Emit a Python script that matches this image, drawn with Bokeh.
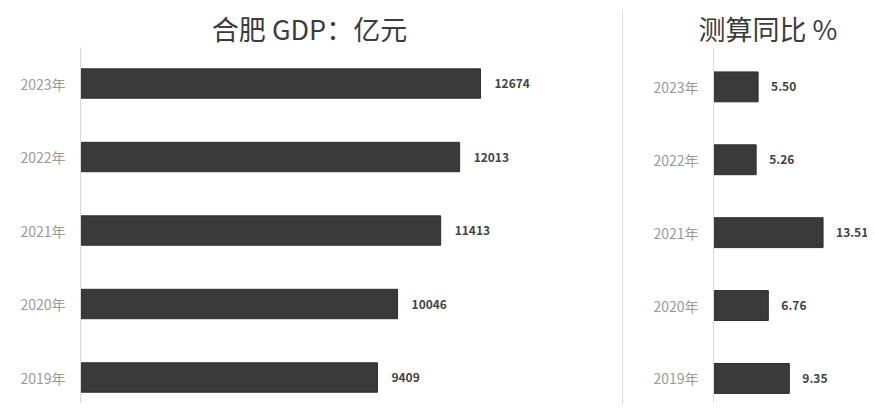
from bokeh.plotting import figure
from bokeh.models import ColumnDataSource, Range1d, FixedTicker, Div
from bokeh.layouts import row
from bokeh.embed import file_html
from bokeh.resources import INLINE
from bokeh.core.properties import value

years = ["2019年", "2020年", "2021年", "2022年", "2023年"]
gdp = [9409, 10046, 11413, 12013, 12674]
gdp_labels = ["9409", "10046", "11413", "12013", "12674"]
growth = [9.35, 6.76, 13.51, 5.26, 5.50]
growth_labels = ["9.35", "6.76", "13.51", "5.26", "5.50"]

FONT = "Noto Sans CJK SC"
BAR = "#3a3a3a"

def style(p, font_px="27px"):
    p.title.text_font = FONT
    p.title.text_font_size = font_px
    p.title.text_font_style = "normal"
    p.title.text_color = "#3c3c3c"
    p.title.standoff = 0
    p.xaxis.visible = False
    p.xgrid.visible = False
    p.ygrid.visible = False
    p.outline_line_color = None
    ax = p.yaxis[0]
    ax.ticker = FixedTicker(ticks=list(range(len(years))))
    ax.major_label_overrides = {i: y for i, y in enumerate(years)}
    ax.major_tick_line_color = None
    ax.minor_tick_line_color = None
    ax.axis_line_color = "#d9d9d9"
    ax.axis_line_width = 1
    ax.major_label_text_font = FONT
    ax.major_label_text_font_size = "14px"
    ax.major_label_text_color = "#9a9a9a"
    ax.major_label_standoff = 9

idx = list(range(len(years)))

src1 = ColumnDataSource(dict(y=idx, v=gdp, lab=gdp_labels))
p1 = figure(width=622, height=405, output_backend="svg", toolbar_location=None,
            x_range=Range1d(0, 14512), y_range=Range1d(-0.34, 4.49),
            min_border_left=80, min_border_right=84, min_border_top=47, min_border_bottom=3,
            title="合肥 GDP：亿元")
p1.title.align = "center"
p1.hbar(y="y", right="v", left=0, height=0.4, source=src1, fill_color=BAR, line_color="#2e2e2e")
p1.text(x="v", y="y", text="lab", source=src1, x_offset=14, text_baseline="middle",
        text_font=value(FONT), text_font_size="12px", text_font_style="bold", text_color="#444444")
style(p1)

sep = Div(width=1, height=395, margin=(10, 0, 0, 0), styles={"background-color": "#dcdcdc"})

src2 = ColumnDataSource(dict(y=idx, v=growth, lab=growth_labels))
p2 = figure(width=244, height=405, output_backend="svg", toolbar_location=None,
            x_range=Range1d(0, 18.99), y_range=Range1d(-0.33, 4.54),
            min_border_left=90, min_border_right=0, min_border_top=47, min_border_bottom=3,
            title="测算同比 %")
p2.title.align = "left"
p2.title.offset = -15
p2.hbar(y="y", right="v", left=0, height=0.41, source=src2, fill_color=BAR, line_color="#2e2e2e")
p2.text(x="v", y="y", text="lab", source=src2, x_offset=13, text_baseline="middle",
        text_font=value(FONT), text_font_size="12px", text_font_style="bold", text_color="#444444")
style(p2)

layout = row(p1, sep, p2)
open("out.html", "w").write(file_html(layout, INLINE))
